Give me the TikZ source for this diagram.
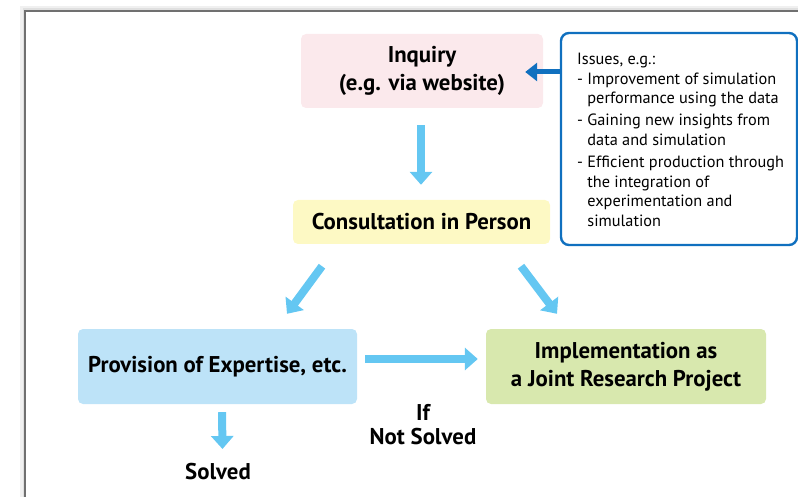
\documentclass[tikz,border=0pt]{standalone}
\usepackage{fontspec}
\setmainfont{PT Sans}
\usetikzlibrary{arrows.meta}
\definecolor{pinkc}{HTML}{FBE9EC}
\definecolor{yellc}{HTML}{FDF9C4}
\definecolor{bluec}{HTML}{BDE3F8}
\definecolor{greenc}{HTML}{D8E8AE}
\definecolor{arrowc}{HTML}{64C7F2}
\definecolor{darkc}{HTML}{1070BF}
\definecolor{framec}{HTML}{707070}
\tikzset{
  stepbox/.style={rounded corners=5pt, inner sep=0pt, align=center,
    font=\fontsize{22.8}{28}\selectfont\bfseries},
  flowarrow/.style={draw=arrowc, line width=8pt,
    -{Triangle[width=22pt,length=13pt]}, shorten >=0pt},
  darkarrow/.style={draw=darkc, line width=5pt,
    -{Triangle[width=18pt,length=12pt]}},
  plainlabel/.style={align=center, inner sep=0pt,
    font=\fontsize{22.8}{24}\selectfont\bfseries},
}
\begin{document}
\begin{tikzpicture}[x=1pt,y=-1pt]
\useasboundingbox (0,0) rectangle (798,497);
% frame with a soft shadow
\draw[black!6, line width=4pt] (22,500) -- (22,8) -- (800,8);
\draw[black!12, line width=2pt] (23.5,500) -- (23.5,9.5) -- (800,9.5);
\draw[framec, line width=1.6pt] (25,500) -- (25,11) -- (800,11);

\node[stepbox, fill=pinkc, minimum width=242pt, minimum height=74pt] (inq) at (422,71) {Inquiry\\(e.g. via website)};
\node[stepbox, fill=yellc, minimum width=257pt, minimum height=44pt] (cons) at (421.5,222) {Consultation in Person};
\node[stepbox, fill=bluec, minimum width=279pt, minimum height=75pt] (prov) at (217.5,366.5) {Provision of Expertise, etc.};
\node[stepbox, fill=greenc, minimum width=280pt, minimum height=75pt] (impl) at (626,366.5) {Implementation as\\a Joint Research Project};

\node[draw=darkc, line width=2.4pt, rounded corners=8pt, fill=white,
  minimum width=236pt, minimum height=212pt, inner sep=0pt] (issues) at (679,139) {};
\node[anchor=north west, inner sep=0pt, align=left,
  font=\fontsize{16.3}{19.6}\selectfont] (issuestxt) at (577,50.5)
  {\begin{tabular}{@{}l@{}}
   Issues, e.g.:\\
   - Improvement of simulation\\
   \phantom{- }performance using the data\\[2.5pt]
   - Gaining new insights from\\
   \phantom{- }data and simulation\\[2.5pt]
   - Efficient production through\\
   \phantom{- }the integration of\\
   \phantom{- }experimentation and\\
   \phantom{- }simulation
   \end{tabular}};

\node[plainlabel] (solved) at (218,472) {Solved};
\node[plainlabel] (notsolved) at (423,425) {If\\Not Solved};

\draw[darkarrow] (issues.west |- 0,72) -- ([shift={(-18,1)}]inq.east);
\draw[flowarrow] ([shift={(-1,17)}]inq.south) -- ([shift={(-0.5,-15)}]cons.north);
\draw[flowarrow] ([shift={(-99.5,22)}]cons.south) -- ([shift={(69.5,-15)}]prov.north);
\draw[flowarrow] ([shift={(99.5,22)}]cons.south) -- ([shift={(-69,-15)}]impl.north);
\draw[flowarrow] ([shift={(8,-7.5)}]prov.east) -- ([shift={(-8,-7.5)}]impl.west);
\draw[flowarrow] ([shift={(4.5,8)}]prov.south) -- ([shift={(4.5,-23)}]solved.center);
\end{tikzpicture}
\end{document}
